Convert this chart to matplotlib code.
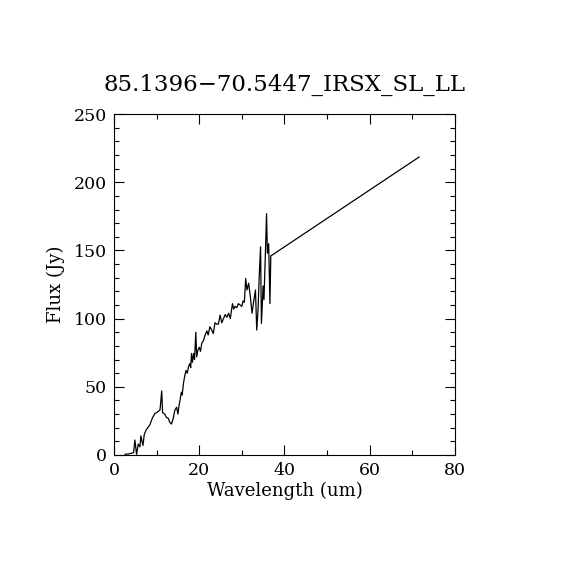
import numpy as np
import matplotlib
matplotlib.use("Agg")
import matplotlib.pyplot as plt
from matplotlib.ticker import MultipleLocator

# spectrum (wavelength in um, flux in Jy)
wave = [2.6, 3.5, 4.6, 4.9, 5.3, 5.7, 6.1, 6.3, 6.8, 7.1, 7.5, 7.9, 8.4, 9.0,
        9.6, 10.0, 10.4, 10.8, 11.2, 11.4, 11.9, 12.3, 12.7, 13.1, 13.5, 13.9,
        14.3, 14.7, 15.0, 15.3, 15.5, 15.8, 16.0, 16.3, 16.6, 16.9, 17.2, 17.5,
        17.8, 18.0, 18.2, 18.4, 18.7, 18.9, 19.2, 19.4, 19.7, 20.0, 20.3, 20.6,
        21.0, 21.4, 21.8, 22.1, 22.5, 22.9, 23.3, 23.7, 24.1, 24.5, 24.9, 25.3,
        25.7, 26.1, 26.5, 26.9, 27.3, 27.8, 28.1, 28.4, 28.8, 29.2, 29.6, 30.0,
        30.3, 30.6, 30.9, 31.2, 31.6, 32.0, 32.4, 32.8, 33.2, 33.5, 33.8, 34.1,
        34.4, 34.6, 35.0, 35.2, 35.6, 35.8, 36.0, 36.3, 36.6, 36.8, 37.1, 71.6]
flux = [0.5, 0.8, 1.7, 11.0, 0.5, 8.0, 6.0, 14.0, 7.0, 15.0, 18.0, 20.0, 22.0,
        27.0, 30.5, 31.0, 32.0, 33.0, 47.0, 31.0, 30.0, 27.5, 27.0, 24.0, 22.7,
        26.9, 33.0, 35.0, 30.0, 37.0, 40.0, 46.0, 44.0, 52.5, 58.0, 62.0, 60.0,
        65.0, 67.0, 64.0, 74.5, 68.0, 74.5, 70.0, 90.0, 72.0, 77.0, 79.0, 76.0,
        82.0, 84.0, 88.0, 91.0, 88.0, 94.0, 92.0, 89.0, 97.0, 96.0, 96.0, 102.6,
        97.0, 100.0, 103.0, 101.0, 104.0, 100.0, 111.0, 107.0, 109.0, 108.0,
        111.0, 110.0, 109.0, 113.0, 112.0, 129.5, 121.0, 126.0, 116.0, 104.0,
        113.0, 121.0, 91.6, 106.0, 132.0, 152.7, 96.5, 124.0, 114.0, 155.0,
        177.0, 148.0, 155.0, 111.0, 146.0, 146.6, 218.5]

title = "85.1396\u221270.5447_IRSX_SL_LL"

plt.rcParams['font.family'] = ['DejaVu Serif', 'DejaVu Sans']

fig = plt.figure(figsize=(5.7, 5.7), dpi=100)
ax = fig.add_axes([0.2, 0.2018, 0.598, 0.598])

ax.plot(wave, flux, color='black', lw=0.9)

ax.set_xlim(0, 80)
ax.set_ylim(0, 250)
ax.xaxis.set_major_locator(MultipleLocator(20))
ax.xaxis.set_minor_locator(MultipleLocator(10))
ax.yaxis.set_major_locator(MultipleLocator(50))
ax.yaxis.set_minor_locator(MultipleLocator(10))
ax.tick_params(which='both', direction='in', top=True, right=True,
               labelsize=12.5, width=0.8)
ax.tick_params(which='major', length=7, pad=5)
ax.tick_params(which='minor', length=3.5)
for s in ax.spines.values():
    s.set_linewidth(0.8)

ax.set_xlabel("Wavelength (um)", fontsize=13, labelpad=2)
ax.set_ylabel("Flux (Jy)", fontsize=13, labelpad=6)
ax.set_title(title, fontsize=16.5, pad=17)

fig.savefig("out.png", dpi=100)
